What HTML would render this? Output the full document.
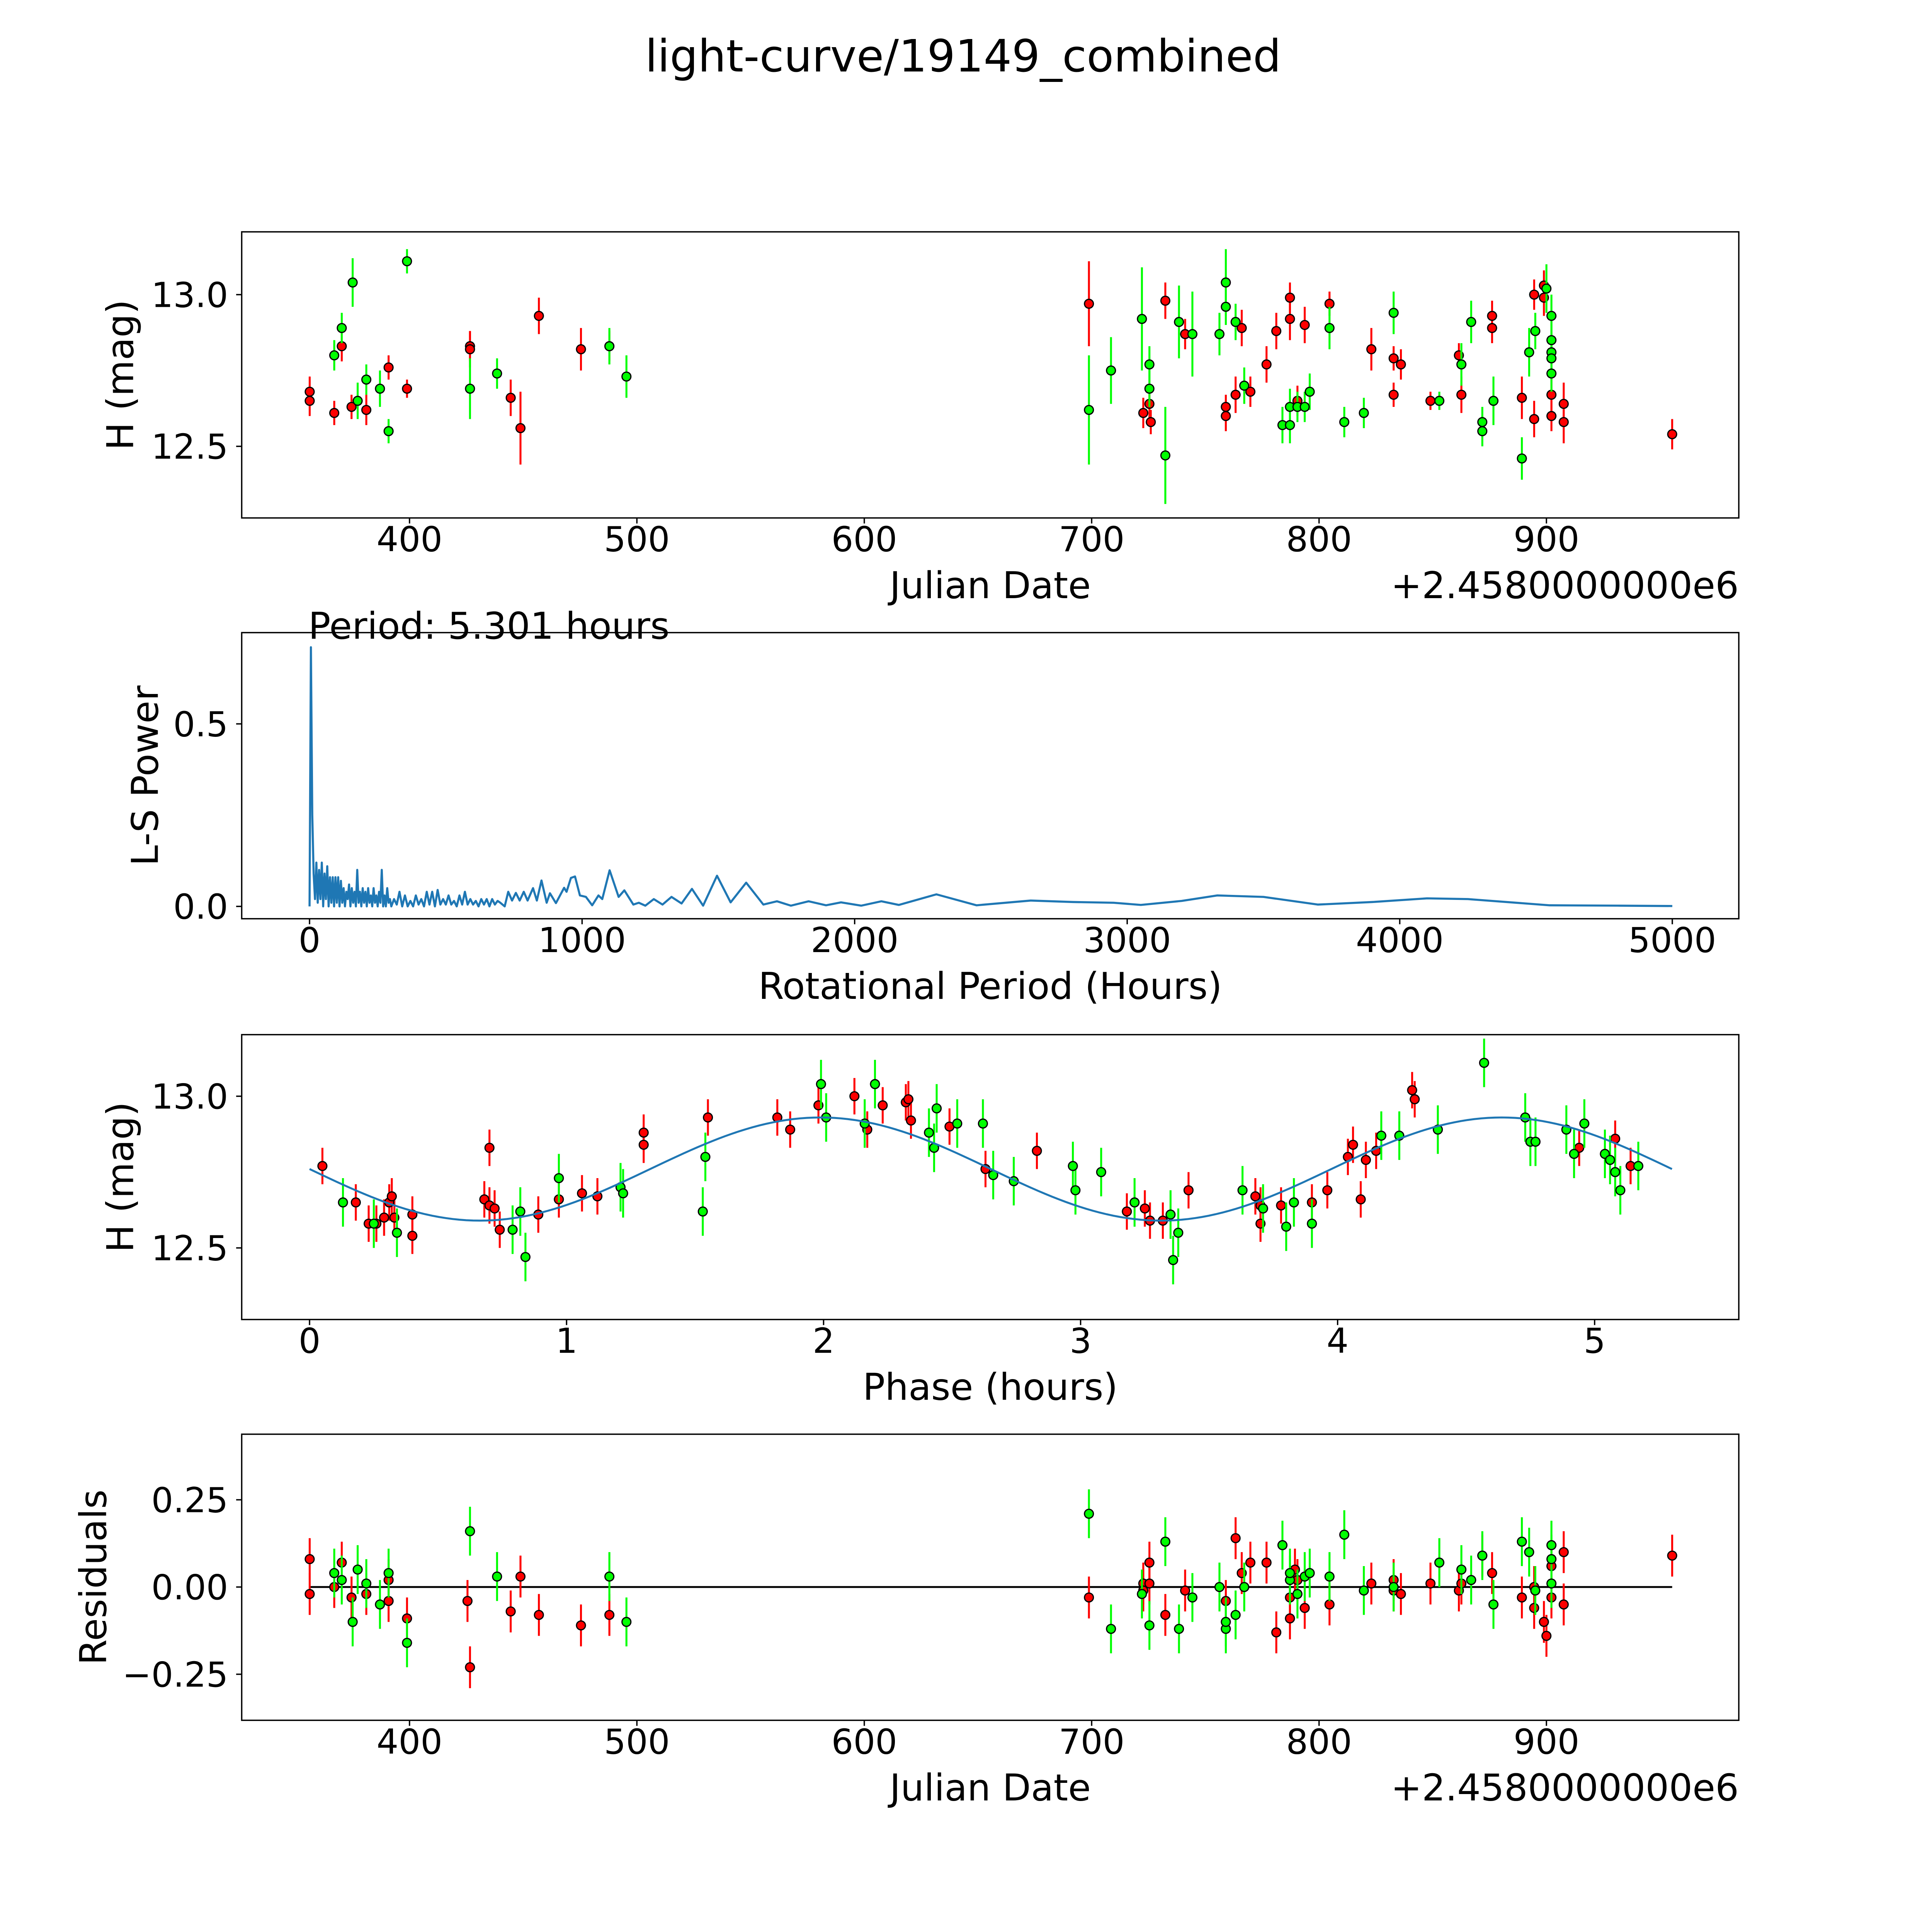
<!DOCTYPE html>
<html><head><meta charset="utf-8"><style>
html,body{margin:0;padding:0;background:#fff;overflow:hidden;}
svg{display:block;font-family:"DejaVu Sans","Liberation Sans",sans-serif;}
</style></head><body>
<svg id="fig" width="5400" height="5400" viewBox="0 0 1692 1692" xmlns="http://www.w3.org/2000/svg">
<rect x="0" y="0" width="1692" height="1692" fill="#fff"/>
<text x="781" y="58" font-size="36" text-anchor="middle">light-curve/19149_combined</text>
<g id="layer"></g>
</svg>
<script>
// ---- Panel 1: light curve (JD offset - 2458000) ----
const p1RedDates=[356.1,356.1,366.9,370.2,374.5,381,390.8,398.9,426.6,426.6,444.5,448.8,456.9,475.4,487.9,698.8,722.7,725.4,726,732.4,741.1,759,759,763.3,766,769.8,776.9,781.2,787.2,787.2,790.5,793.7,804.6,823,832.8,832.8,836,849,861.5,862.6,876.1,876.1,889.2,894.6,894.6,898.9,898.9,902.2,902.2,907.6,907.6,955.3];
const p1RedMags=[12.68,12.65,12.61,12.83,12.63,12.62,12.76,12.69,12.83,12.82,12.66,12.56,12.93,12.82,12.83,12.97,12.61,12.64,12.58,12.98,12.87,12.63,12.60,12.67,12.89,12.68,12.77,12.88,12.99,12.92,12.65,12.90,12.97,12.82,12.79,12.67,12.77,12.65,12.80,12.67,12.93,12.89,12.66,12.59,13.0,13.03,12.99,12.67,12.60,12.64,12.58,12.54];
const p1RedErrs=[0.05,0.05,0.04,0.05,0.04,0.05,0.04,0.03,0.05,0.06,0.06,0.12,0.06,0.07,0.05,0.14,0.05,0.05,0.04,0.06,0.05,0.04,0.05,0.06,0.06,0.05,0.06,0.06,0.05,0.07,0.05,0.06,0.04,0.07,0.04,0.04,0.05,0.03,0.04,0.06,0.05,0.05,0.07,0.06,0.05,0.05,0.06,0.06,0.05,0.07,0.07,0.05];
const p1GreenDates=[366.9,370.2,375,377.2,381,387,390.8,398.9,426.6,438.5,487.9,495.4,698.8,708.5,722.1,725.4,725.4,732.4,738.4,744.3,756.2,759,759,763.3,767.1,783.9,787.2,787.2,790.5,793.7,795.9,804.6,811.1,819.7,832.8,852.9,862.6,866.9,871.8,871.8,876.7,889.2,892.4,895.1,900,902.2,902.2,902.2,902.2,902.2];
const p1GreenMags=[12.80,12.89,13.04,12.65,12.72,12.69,12.55,13.11,12.69,12.74,12.83,12.73,12.62,12.75,12.92,12.77,12.69,12.47,12.91,12.87,12.87,13.04,12.96,12.91,12.70,12.57,12.57,12.63,12.63,12.63,12.68,12.89,12.58,12.61,12.94,12.65,12.77,12.91,12.58,12.55,12.65,12.46,12.81,12.88,13.02,12.93,12.85,12.81,12.79,12.74];
const p1GreenErrs=[0.05,0.05,0.08,0.06,0.05,0.06,0.04,0.04,0.1,0.05,0.06,0.07,0.18,0.11,0.17,0.06,0.06,0.16,0.12,0.14,0.07,0.11,0.06,0.06,0.06,0.06,0.06,0.06,0.05,0.05,0.06,0.07,0.05,0.05,0.07,0.03,0.07,0.07,0.05,0.05,0.08,0.07,0.08,0.06,0.08,0.07,0.06,0.06,0.06,0.06];
// ---- Panel 2: periodogram ----
const lsPeriods=[0,5,10,15,20,25,30,35,40,45,50,55,60,65,70,75,80,85,90,95,100,105,110,115,120,125,130,135,140,145,150,155,160,165,170,175,180,185,190,195,200,205,210,215,220,225,230,235,240,245,250,255,260,265,270,275,280,285,290,295,300,310,320,330,340,350,360,370,380,390,400,410,420,430,440,450,460,470,480,490,500,510,520,530,540,550,560,570,580,590,600,610,620,630,640,650,660,670,680,690,700,716,729,743,757,771,786,800,820,834,851,870,882,904,934,943,959,974,992,1014,1037,1060,1074,1101,1134,1155,1188,1208,1232,1263,1295,1328,1365,1403,1444,1495,1545,1602,1665,1715,1766,1831,1895,1950,2024,2098,2162,2300,2447,2646,2800,2950,3050,3200,3330,3500,3700,3900,4100,4250,4550,4800,5000];
const lsPowers=[0,0.71,0.25,0.09,0.02,0.12,0.01,0.10,0.02,0.12,0.0,0.09,0.02,0.11,0.0,0.08,0.01,0.08,0.0,0.08,0.01,0.08,0.0,0.07,0.01,0.05,0.0,0.04,0.02,0.06,0.0,0.05,0.01,0.04,0.0,0.10,0.01,0.04,0.0,0.05,0.01,0.04,0.0,0.05,0.01,0.03,0.0,0.05,0.01,0.03,0.0,0.04,0.01,0.10,0.0,0.03,0.0,0.05,0.01,0.02,0.0,0.02,0.005,0.04,0.0,0.03,0.0,0.015,0.0,0.03,0.005,0.02,0.0,0.04,0.005,0.04,0.0,0.045,0.005,0.02,0.005,0.03,0.005,0.015,0.0,0.03,0.005,0.04,0.005,0.02,0.005,0.015,0.0,0.02,0.005,0.02,0.0,0.02,0.005,0.015,0.01,0.0,0.04,0.016,0.037,0.016,0.04,0.016,0.05,0.016,0.071,0.01,0.036,0.009,0.051,0.04,0.078,0.082,0.03,0.026,0.003,0.03,0.02,0.099,0.026,0.044,0.005,0.01,0.002,0.02,0.005,0.026,0.008,0.048,0.002,0.084,0.011,0.065,0.005,0.014,0.002,0.014,0.003,0.011,0.002,0.014,0.004,0.033,0.003,0.016,0.012,0.01,0.004,0.015,0.03,0.026,0.005,0.012,0.022,0.02,0.003,0.002,0.001];
const bestPeriodLabel="Period: 5.301 hours";
// ---- Panel 3: phased ----
const phRedPhase=[0.05,0.18,0.23,0.26,0.29,0.31,0.32,0.33,0.40,0.40,0.68,0.70,0.70,0.72,0.74,0.89,0.97,1.06,1.12,1.30,1.30,1.55,1.82,1.87,1.98,2.12,2.17,2.23,2.32,2.33,2.34,2.49,2.63,2.83,3.18,3.25,3.27,3.32,3.42,3.68,3.70,3.70,3.78,3.90,3.96,4.04,4.06,4.09,4.11,4.15,4.29,4.30,4.94,5.08,5.14];
const phRedMags=[12.77,12.65,12.58,12.58,12.60,12.65,12.67,12.60,12.61,12.54,12.66,12.83,12.64,12.63,12.56,12.61,12.66,12.68,12.67,12.88,12.84,12.93,12.93,12.89,12.97,13.0,12.89,12.97,12.98,12.99,12.92,12.90,12.76,12.82,12.62,12.63,12.59,12.59,12.69,12.67,12.64,12.58,12.64,12.65,12.69,12.80,12.84,12.66,12.79,12.82,13.02,12.99,12.83,12.86,12.77];
const phGreenPhase=[0.13,0.25,0.34,0.79,0.82,0.84,0.97,1.21,1.22,1.53,1.54,1.99,2.01,2.16,2.20,2.41,2.43,2.44,2.52,2.62,2.66,2.74,2.97,2.98,3.08,3.21,3.35,3.36,3.38,3.63,3.71,3.80,3.83,3.90,4.17,4.24,4.39,4.57,4.73,4.75,4.77,4.89,4.92,4.96,5.04,5.06,5.08,5.10,5.17];
const phGreenMags=[12.65,12.58,12.55,12.56,12.62,12.47,12.73,12.70,12.68,12.62,12.80,13.04,12.93,12.91,13.04,12.88,12.83,12.96,12.91,12.91,12.74,12.72,12.77,12.69,12.75,12.65,12.61,12.46,12.55,12.69,12.63,12.57,12.65,12.58,12.87,12.87,12.89,13.11,12.93,12.85,12.85,12.89,12.81,12.91,12.81,12.79,12.75,12.69,12.77];
const fitMean=[12.76], fitAmp=[0.17], fitHalfPeriod=[2.6505], fitMaxPhase=[5.301];
// ---- Panel 4: residuals ----
const rsRedDates=[356.1,356.1,366.9,370.2,374.5,381,390.8,390.8,398.9,425.5,426.6,444.5,448.8,456.9,475.4,487.9,698.8,722.7,725.4,725.4,722.7,732.4,741.1,759,763.3,766,769.8,776.9,781.2,787.2,787.2,789.4,790.5,793.7,804.6,823,832.8,832.8,836,849,861.5,862.6,876.1,871.8,889.2,894.6,894.6,898.9,900,902.2,902.2,907.6,907.6,955.3];
const rsRedVals=[0.08,-0.02,0.0,0.07,-0.03,-0.02,-0.04,0.02,-0.09,-0.04,-0.23,-0.07,0.03,-0.08,-0.11,-0.08,-0.03,0.01,0.07,0.01,-0.01,-0.08,-0.01,-0.04,0.14,0.04,0.07,0.07,-0.13,-0.09,-0.03,0.05,0.02,-0.06,-0.05,0.01,0.02,-0.01,-0.02,0.01,-0.01,0.01,0.04,0.09,-0.03,-0.06,0.0,-0.10,-0.14,-0.03,0.06,-0.05,0.10,0.09];
const rsGreenDates=[366.9,370.2,375,377.2,381,387,390.8,398.9,426.6,438.5,487.9,495.4,698.8,708.5,722.1,725.4,732.4,738.4,744.3,756.2,759,759,763.3,767.1,783.9,787.2,787.2,790.5,793.7,795.9,804.6,811.1,819.7,832.8,852.9,862.6,866.9,871.8,876.7,889.2,892.4,895.1,902.2,902.2,902.2];
const rsGreenVals=[0.04,0.02,-0.10,0.05,0.01,-0.05,0.04,-0.16,0.16,0.03,0.03,-0.10,0.21,-0.12,-0.02,-0.11,0.13,-0.12,-0.03,0.0,-0.12,-0.10,-0.08,0.0,0.12,0.02,0.04,-0.02,0.03,0.04,0.03,0.15,-0.01,0.0,0.07,0.05,0.02,0.09,-0.05,0.13,0.10,-0.01,0.12,0.08,0.01];

const NS='http://www.w3.org/2000/svg';
const layer=document.getElementById('layer');
function mk(tag,attrs,parent){const e=document.createElementNS(NS,tag);for(const k in attrs)e.setAttribute(k,attrs[k]);(parent||layer).appendChild(e);return e;}
function axis(px0,px1,py0,py1,x0,x1,y0,y1){return {px0,px1,py0,py1,x:v=>px0+(v-x0)/(x1-x0)*(px1-px0),y:v=>py1-(v-y0)/(y1-y0)*(py1-py0)};}
const A1=axis(196,1410,188,420,326.2,984.6,12.264,13.207);
const A2=axis(196,1410,513,745,-248.9,5244,-0.0338,0.75);
const A3=axis(196,1410,839,1070,-0.264,5.561,12.264,13.203);
const A4=axis(196,1410,1163,1395,326.2,984.6,-0.382,0.438);

function frame(A,name,xt,xl,yt,yl,xlabel,ylabel,ylx,offset){
  const g=mk('g',{});
  
  
  const r=mk('rect',{x:A.px0,y:A.py0,width:A.px1-A.px0,height:A.py1-A.py0,fill:'none',stroke:'#000','stroke-width':1.1},g);
  
  
  xt.forEach((v,i)=>{const x=A.x(v);
    mk('line',{x1:x,x2:x,y1:A.py1,y2:A.py1+4.5,stroke:'#000','stroke-width':1.1},g);
    const t=mk('text',{x:x,y:A.py1+27,'font-size':28,'text-anchor':'middle'},g);t.textContent=xl[i];
    
    });
  yt.forEach((v,i)=>{const y=A.y(v);
    mk('line',{x1:A.px0-4.5,x2:A.px0,y1:y,y2:y,stroke:'#000','stroke-width':1.1},g);
    const t=mk('text',{x:A.px0-11,y:y+10,'font-size':28,'text-anchor':'end'},g);t.textContent=yl[i];
    
    });
  const xt2=mk('text',{x:803,y:A.py1+65,'font-size':30,'text-anchor':'middle'},g);xt2.textContent=xlabel;
  
  
  const cy=(A.py0+A.py1)/2;
  const yt2=mk('text',{x:ylx,y:cy,'font-size':30,'text-anchor':'middle',transform:`rotate(-90 ${ylx} ${cy})`},g);yt2.textContent=ylabel;
  
  
  if(offset){const o=mk('text',{x:A.px1,y:A.py1+65,'font-size':30,'text-anchor':'end'},g);o.textContent=offset;
    
    }
}
function points(A,xs,ys,errs,defErr,color,name){
  const g=mk('g',{});
  
  
  xs.forEach((v,i)=>{const e=errs?errs[i]:defErr;const x=A.x(v);
    mk('line',{x1:x,x2:x,y1:A.y(ys[i]-e),y2:A.y(ys[i]+e),stroke:color==='red'?'#ff0000':'#00ff00','stroke-width':1.6},g);});
  xs.forEach((v,i)=>{const c=mk('circle',{cx:A.x(v),cy:A.y(ys[i]),r:3.6,fill:color==='red'?'#ff0000':'#00ff00',stroke:'#000','stroke-width':1},g);
    
    });
}
const dT=[400,500,600,700,800,900], dL=['400','500','600','700','800','900'];
frame(A1,'lightcurve-panel',dT,dL,[12.5,13.0],['12.5','13.0'],'Julian Date','H (mag)',108,'+2.4580000000e6');
points(A1,p1RedDates,p1RedMags,p1RedErrs,0,'red','lightcurve-red-series');
points(A1,p1GreenDates,p1GreenMags,p1GreenErrs,0,'green','lightcurve-green-series');

frame(A2,'periodogram-panel',[0,1000,2000,3000,4000,5000],['0','1000','2000','3000','4000','5000'],[0,0.5],['0.0','0.5'],'Rotational Period (Hours)','L-S Power',128,null);
const pl=mk('polyline',{points:lsPeriods.map((p,i)=>A2.x(p)+','+A2.y(lsPowers[i])).join(' '),fill:'none',stroke:'#1f77b4','stroke-width':1.7,'stroke-linejoin':'round'});


const pt=mk('text',{x:250,y:518,'font-size':30});pt.textContent=bestPeriodLabel;



frame(A3,'phase-panel',[0,1,2,3,4,5],['0','1','2','3','4','5'],[12.5,13.0],['12.5','13.0'],'Phase (hours)','H (mag)',108,null);
points(A3,phRedPhase,phRedMags,null,0.06,'red','phase-red-series');
points(A3,phGreenPhase,phGreenMags,null,0.08,'green','phase-green-series');
const fp=[];for(let i=0;i<=200;i++){const p=fitMaxPhase[0]*i/200;fp.push(A3.x(p)+','+A3.y(fitMean[0]-fitAmp[0]*Math.sin(2*Math.PI*p/fitHalfPeriod[0])));}
const fl=mk('polyline',{points:fp.join(' '),fill:'none',stroke:'#1f77b4','stroke-width':1.6});



frame(A4,'residuals-panel',dT,dL,[0.25,0,-0.25],['0.25','0.00','\u22120.25'],'Julian Date','Residuals',86,'+2.4580000000e6');
const zl=mk('line',{x1:A4.x(356.1),x2:A4.x(955.3),y1:A4.y(0),y2:A4.y(0),stroke:'#000','stroke-width':1.5});


points(A4,rsRedDates,rsRedVals,null,0.06,'red','residual-red-series');
points(A4,rsGreenDates,rsGreenVals,null,0.07,'green','residual-green-series');
</script>
</body></html>
